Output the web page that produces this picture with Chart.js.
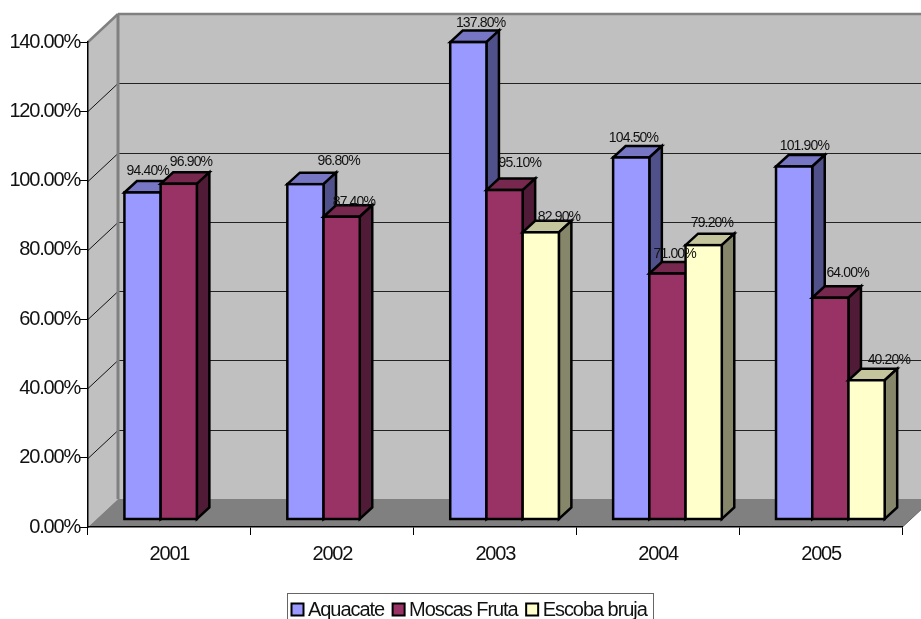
<!DOCTYPE html>
<html>
<head>
<meta charset="utf-8">
<title>Aquacate, Moscas Fruta, Escoba bruja</title>
<script src="https://cdn.jsdelivr.net/npm/chart.js@4"></script>
<style>
  html, body { margin: 0; padding: 0; background: #fff; overflow: hidden; }
  canvas { display: block; }
</style>
</head>
<body>
<canvas id="chart" width="921" height="619"></canvas>
<script>
// Chart data
const years = ['2001', '2002', '2003', '2004', '2005'];
const aquacate = [94.4, 96.8, 137.8, 104.5, 101.9];
const moscasFruta = [96.9, 87.4, 95.1, 71.0, 64.0];
const escobaBruja = [null, null, 82.9, 79.2, 40.2];
const seriesNames = ['Aquacate', 'Moscas Fruta', 'Escoba bruja'];
const seriesColors = ['#9999FF', '#993366', '#FFFFCC'];
const topColors = ['#7676C5', '#76284F', '#C5C59D'];
const sideColors = ['#50508A', '#501B36', '#86866B'];

// Data labels sit where the original left them, not centred on the bars
const labelNudgeX = [
  [-1, 27, 6, -4, 4],
  [6, 6, 9, 1, 11],
  [0, 0, 12, 2, 16]
];
const labelNudgeY = [
  [-10, -12, -7, -8, -9],
  [-10, -3, -15, -8, -13],
  [0, 0, -4, -10, -9]
];

// 3D look
const WALL_DX = 30, WALL_DY = 28;   // back wall offset from the axes
const BAR_DX = 9.3, BAR_DY = 7.5;   // bars stand this far in from the front edge
const DEPTH_DX = 12.5, DEPTH_DY = 11.5;
const BAR_LINE = 2.5;
const FONT = '"Liberation Sans", Arial, sans-serif';

function polygon(ctx, pts, fill, stroke, lineWidth) {
  ctx.beginPath();
  pts.forEach((p, i) => i ? ctx.lineTo(p[0], p[1]) : ctx.moveTo(p[0], p[1]));
  ctx.closePath();
  if (fill) { ctx.fillStyle = fill; ctx.fill(); }
  if (stroke) { ctx.strokeStyle = stroke; ctx.lineWidth = lineWidth; ctx.stroke(); }
}

function line(ctx, x1, y1, x2, y2, color, width) {
  ctx.beginPath();
  ctx.moveTo(x1, y1);
  ctx.lineTo(x2, y2);
  ctx.strokeStyle = color;
  ctx.lineWidth = width;
  ctx.stroke();
}

// Side wall, back wall, floor and the gridlines on them
const wallsPlugin = {
  id: 'walls',
  beforeDraw(chart) {
    const ctx = chart.ctx, a = chart.chartArea, y = chart.scales.y;
    const bx = a.left + WALL_DX, rx = a.right + WALL_DX;
    const ty = a.top - WALL_DY, by = a.bottom - WALL_DY;
    ctx.letterSpacing = '-1.2px';   // axis labels are set tight in the original
    ctx.save();
    polygon(ctx, [[bx, ty], [rx, ty], [rx, by], [bx, by]], '#C0C0C0');
    polygon(ctx, [[a.left, a.top], [bx, ty], [bx, by], [a.left, a.bottom]], '#C0C0C0');
    polygon(ctx, [[a.left, a.bottom], [bx, by], [rx, by], [a.right, a.bottom]], '#808080');
    y.ticks.forEach(t => {
      if (t.value === 0 || t.value === y.max) return;
      const py = Math.round(y.getPixelForValue(t.value)) + 0.5;
      line(ctx, a.left, py, bx, py - WALL_DY, '#111', 1);
      line(ctx, bx, py - WALL_DY, rx, py - WALL_DY, '#222', 1);
    });
    line(ctx, a.left, a.top, bx, ty, '#808080', 2.5);
    line(ctx, bx, ty, rx, ty, '#808080', 2.5);
    line(ctx, bx, ty, bx, by, '#808080', 3);
    line(ctx, a.right, a.bottom, rx, by, '#666', 1);
    ctx.restore();
  }
};

// Draw each series left to right: depth faces, library bars, then the outline
const barsPlugin = {
  id: 'bars3d',
  beforeDatasetsDraw(chart) {
    const ctx = chart.ctx;
    chart.data.datasets.forEach((ds, s) => {
      const meta = chart.getDatasetMeta(s);
      ctx.save();
      ctx.translate(BAR_DX, -BAR_DY);
      ctx.lineJoin = 'miter';
      meta.data.forEach((el, i) => {
        if (ds.data[i] === null) return;
        const l = el.x - el.width / 2, r = el.x + el.width / 2;
        polygon(ctx, [[l, el.y], [l + DEPTH_DX, el.y - DEPTH_DY], [r + DEPTH_DX, el.y - DEPTH_DY], [r, el.y]],
          topColors[s], '#000', BAR_LINE);
        polygon(ctx, [[r, el.y], [r + DEPTH_DX, el.y - DEPTH_DY], [r + DEPTH_DX, el.base - DEPTH_DY], [r, el.base]],
          sideColors[s], '#000', BAR_LINE);
      });
      meta.controller.draw();
      meta.data.forEach((el, i) => {
        if (ds.data[i] === null) return;
        const l = el.x - el.width / 2;
        ctx.strokeStyle = '#000';
        ctx.lineWidth = BAR_LINE;
        ctx.strokeRect(l, el.y, el.width, el.base - el.y);
      });
      ctx.restore();
    });
    return false;
  }
};

// Value labels and the legend strip, which runs off the bottom of the picture
const textPlugin = {
  id: 'texts',
  afterDraw(chart) {
    const ctx = chart.ctx;
    ctx.save();
    ctx.fillStyle = '#111';
    ctx.font = '14px ' + FONT;
    ctx.letterSpacing = '-0.85px';
    ctx.textAlign = 'center';
    ctx.textBaseline = 'middle';
    chart.data.datasets.forEach((ds, s) => {
      chart.getDatasetMeta(s).data.forEach((el, i) => {
        if (ds.data[i] === null) return;
        const x = el.x + BAR_DX + DEPTH_DX / 2 + labelNudgeX[s][i];
        const y = el.y - BAR_DY - DEPTH_DY + labelNudgeY[s][i];
        ctx.fillText(ds.data[i].toFixed(2) + '%', x, y);
      });
    });

    ctx.strokeStyle = '#666';
    ctx.lineWidth = 1;
    ctx.strokeRect(287.5, 593.5, 366, 40);
    ctx.font = '20px ' + FONT;
    ctx.letterSpacing = '-1.05px';
    ctx.textAlign = 'left';
    ctx.textBaseline = 'alphabetic';
    let x = 291.5;
    seriesNames.forEach((name, s) => {
      ctx.fillStyle = seriesColors[s];
      ctx.fillRect(x, 603.5, 12, 12);
      ctx.strokeStyle = '#000';
      ctx.lineWidth = 2;
      ctx.strokeRect(x, 603.5, 12, 12);
      ctx.fillStyle = '#111';
      ctx.fillText(name, x + 16.5, 616);
      x += 16.5 + ctx.measureText(name).width + 8.5;
    });
    ctx.restore();
  }
};

new Chart(document.getElementById('chart'), {
  type: 'bar',
  data: {
    labels: years,
    datasets: [
      { label: seriesNames[0], data: aquacate, backgroundColor: seriesColors[0] },
      { label: seriesNames[1], data: moscasFruta, backgroundColor: seriesColors[1] },
      { label: seriesNames[2], data: escobaBruja, backgroundColor: seriesColors[2] }
    ]
  },
  plugins: [wallsPlugin, barsPlugin, textPlugin],
  options: {
    responsive: false,
    animation: false,
    devicePixelRatio: 1,
    categoryPercentage: 0.667,
    barPercentage: 1,
    borderWidth: 0,
    layout: { padding: { top: 42, right: 18.5, left: 0, bottom: 0 } },
    plugins: { legend: { display: false }, tooltip: { enabled: false }, title: { display: false } },
    scales: {
      x: {
        afterFit: s => { s.height = 92; },
        grid: { drawOnChartArea: false, drawTicks: true, tickLength: 8, tickColor: '#000', lineWidth: 1 },
        border: { color: '#000', width: 1.5 },
        ticks: { color: '#111', font: { family: FONT, size: 20 }, padding: 7, maxRotation: 0 }
      },
      y: {
        min: 0,
        max: 140,
        afterFit: s => { s.width = 88; },
        grid: { drawOnChartArea: false, drawTicks: true, tickLength: 8, tickColor: '#000', lineWidth: 1 },
        border: { color: '#000', width: 1.5 },
        ticks: {
          stepSize: 20,
          color: '#111',
          font: { family: FONT, size: 20 },
          padding: 0,
          callback: v => v.toFixed(2) + '%'
        }
      }
    }
  }
});
</script>
</body>
</html>
